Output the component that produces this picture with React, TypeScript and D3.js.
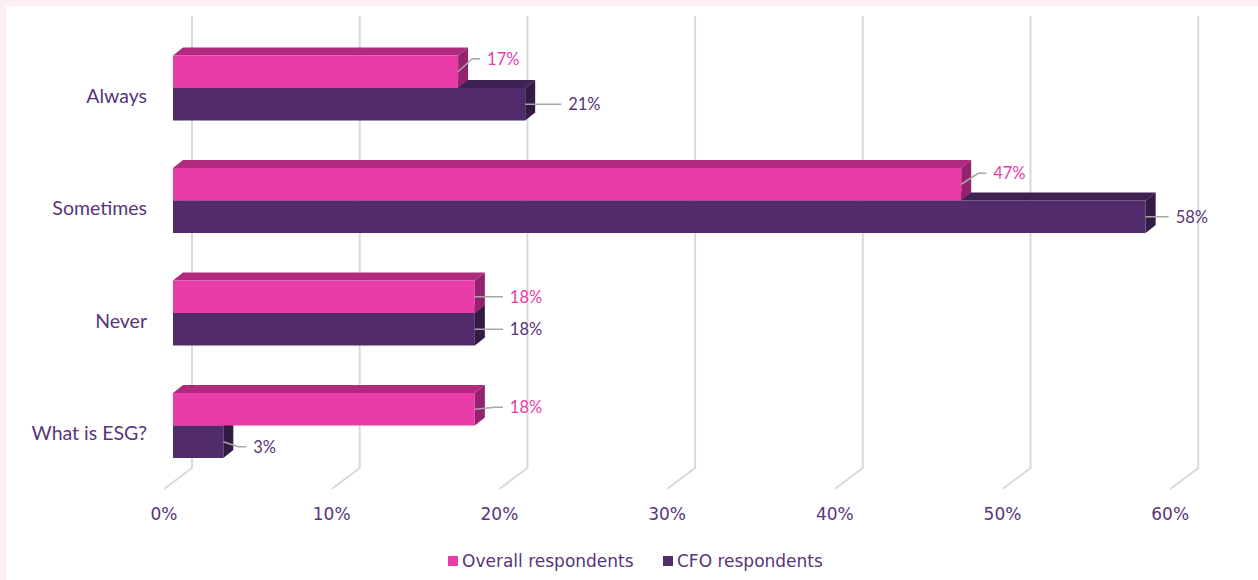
import React from 'react'
import * as d3 from 'd3'

const categories = ['Always', 'Sometimes', 'Never', 'What is ESG?']
const seriesNames = ['Overall respondents', 'CFO respondents']
const overall = [0.17, 0.47, 0.18, 0.18]
const cfo = [0.21, 0.58, 0.18, 0.03]
const ticks = [0, 0.1, 0.2, 0.3, 0.4, 0.5, 0.6]

// hand-placed label offsets (dx from bar end, dy from bar centre), as in the source
const overallLabelShift = [[29, -13], [32, -11], [35, 0], [35, -2]]
const cfoLabelShift = [[43, 0], [30, 0], [35, 0], [30, 5]]

const width = 1258
const height = 580
const depthX = 10
const depthY = 8
const wallTop = 16
const wallBottom = 468
const floorFront = 489

const colors = {
	overall: { front: '#e93ca9', top: '#b02b7e', side: '#93236f', text: '#e93ca9' },
	cfo: { front: '#512b6c', top: '#3e2251', side: '#331b44', text: '#58357a' },
}
const textColor = '#58357a'
const gridColor = '#d9d9d9'

const x = d3.scaleLinear().domain([0, 0.6]).range([173, 1179.2])
const y = d3.scaleBand<string>().domain(categories).range([8, 505.5]).padding(0.4222)
const inner = d3.scaleBand<string>().domain(seriesNames).range([0, y.bandwidth()])

const Bar = ({ value, top, h, c }) => {
	const x0 = x(0)
	const x1 = x(value)
	const b = top + h
	return (
		<g>
			<polygon
				points={`${x0},${top} ${x0 + depthX},${top - depthY} ${x1 + depthX},${top - depthY} ${x1},${top}`}
				fill={c.top}
			/>
			<polygon
				points={`${x1},${top} ${x1 + depthX},${top - depthY} ${x1 + depthX},${b - depthY} ${x1},${b}`}
				fill={c.side}
			/>
			<rect x={x0} y={top} width={x1 - x0} height={h} fill={c.front} />
		</g>
	)
}

const Label = ({ value, cy, shift, c }) => {
	const bx = x(value)
	const lx = bx + shift[0]
	const ly = cy + shift[1]
	const pts =
		shift[1] === 0
			? [[bx, cy], [lx - 7, ly]]
			: [[bx, cy], [lx - 15, ly], [lx - 7, ly]]
	return (
		<g>
			<polyline
				points={pts.map(p => p.join(',')).join(' ')}
				fill="none"
				stroke="#a6a6a6"
				strokeWidth={1.5}
			/>
			<text
				x={lx}
				y={ly}
				dy="0.35em"
				fill={c.text}
				fontSize={16.5}
				fontFamily="Lato, 'Open Sans', sans-serif"
			>
				{d3.format('.0%')(value)}
			</text>
		</g>
	)
}

export default function App() {
	const h = inner.bandwidth()
	return (
		<div style={{ position: 'absolute', left: 0, top: 0 }}>
			<svg width={width} height={height} style={{ display: 'block' }}>
				<rect width={width} height={height} fill="#fbeff5" />
				<rect x={6} y={6} width={width - 6} height={height - 6} fill="#ffffff" />

				{ticks.map(t => (
					<polyline
						key={t}
						points={`${x(t) + 19},${wallTop} ${x(t) + 19},${wallBottom} ${x(t) - 9},${floorFront}`}
						fill="none"
						stroke={gridColor}
						strokeWidth={2}
					/>
				))}

				{ticks.map(t => (
					<text
						key={t}
						x={x(t) - 9}
						y={514}
						dy="0.35em"
						textAnchor="middle"
						fill={textColor}
						fontSize={17}
						fontFamily="'DejaVu Sans', sans-serif"
					>
						{d3.format('.0%')(t)}
					</text>
				))}

				{categories.map((cat, i) => {
					const band = y(cat)
					const topO = band + inner(seriesNames[0])
					const topC = band + inner(seriesNames[1])
					return (
						<g key={cat}>
							<Bar value={cfo[i]} top={topC} h={h} c={colors.cfo} />
							<Bar value={overall[i]} top={topO} h={h} c={colors.overall} />
							<Label value={overall[i]} cy={topO + h / 2} shift={overallLabelShift[i]} c={colors.overall} />
							<Label value={cfo[i]} cy={topC + h / 2} shift={cfoLabelShift[i]} c={colors.cfo} />
							<text
								x={147}
								y={band + y.bandwidth() / 2 + 8}
								dy="0.35em"
								textAnchor="end"
								fill={textColor}
								fontSize={19.5}
								fontFamily="Lato, 'Open Sans', sans-serif"
							>
								{cat}
							</text>
						</g>
					)
				})}

				{seriesNames.map((name, i) => {
					const lx = i === 0 ? 448 : 663
					const c = i === 0 ? colors.overall : colors.cfo
					return (
						<g key={name} transform={`translate(${lx},561)`}>
							<rect x={0} y={-5} width={10} height={10} fill={c.front} />
							<text
								x={14}
								dy="0.35em"
								fill={textColor}
								fontSize={17}
								fontFamily="'DejaVu Sans', sans-serif"
							>
								{name}
							</text>
						</g>
					)
				})}
			</svg>
		</div>
	)
}
